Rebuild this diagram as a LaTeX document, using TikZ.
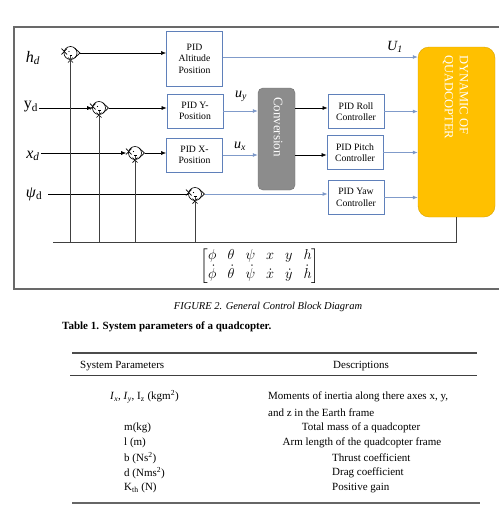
\documentclass[tikz,border=0pt]{standalone}
\usepackage{amsmath}
\usepackage{fontspec}
\setmainfont{Liberation Serif}
\usetikzlibrary{arrows.meta,positioning}
\definecolor{boxBlue}{RGB}{95,128,186}
\definecolor{lineBlue}{RGB}{128,155,202}
\definecolor{convGray}{RGB}{140,140,140}
\definecolor{quadYellow}{RGB}{255,192,0}
\definecolor{frameGray}{RGB}{105,105,105}

\begin{document}
\begin{tikzpicture}
[x=1pt,y=-1pt,
pidBox/.style={draw=boxBlue,line width=0.8pt,fill=white,align=center,inner sep=0pt,
  minimum width=56pt,minimum height=34pt,font=\fontsize{9.7}{11.5}\selectfont},
convBox/.style={draw=convGray!80!black,fill=convGray,rounded corners=5pt,minimum width=37pt,minimum height=102pt},
quadBox/.style={draw=quadYellow!85!black,fill=quadYellow,rounded corners=11pt,minimum width=77pt,minimum height=170pt},
sumNode/.style={circle,draw,line width=0.6pt,minimum size=13pt,inner sep=0pt},
sumMark/.style={line width=0.7pt},
sigEdge/.style={line width=0.6pt,-{Latex[length=5pt,width=4pt]}},
blueEdge/.style={lineBlue,line width=0.8pt,-{Latex[length=5pt,width=4pt,fill=boxBlue]}},
plainEdge/.style={line width=0.6pt},
fbEdge/.style={black!75,line width=0.8pt},
inLabel/.style={font=\fontsize{16}{16}\selectfont,inner sep=1pt},
uLabel/.style={font=\itshape\fontsize{14}{14}\selectfont,inner sep=1pt},
tabText/.style={font=\fontsize{11}{13}\selectfont,inner sep=0pt},
]
\useasboundingbox (0,0) rectangle (499,512);
\draw[frameGray,line width=1.3pt] (499,27) -- (14,27) -- (14,289) -- (499,289);
\node[inLabel] (hd) at (33,58) {\textit{h}\textsubscript{\textit{d}}};
\node[inLabel] (yd) at (31,107) {y\textsubscript{d}};
\node[inLabel] (xd) at (33,156) {\textit{x}\textsubscript{\textit{d}}};
\node[inLabel] (psid) at (34,194) {\textit{ψ}\textsubscript{d}};
\node[sumNode] (s1) at (70.5 , 53) {};
\node[sumNode] (s2) at (99 , 108) {};
\node[sumNode] (s3) at (135 , 153) {};
\node[sumNode] (s4) at (195 , 194) {};
\foreach \s in {s1,s2,s3,s4}{
  \draw[sumMark] ([shift={(4,-5)}]\s.center) -- ([shift={(9.5,0)}]\s.center) -- ([shift={(4,5)}]\s.center);
  \draw[sumMark] ([shift={(-9,-4.5)}]\s.center) -- ([shift={(-3.5,1.5)}]\s.center);
  \draw[sumMark] ([shift={(-9,1.5)}]\s.center) -- ([shift={(-3.5,-4.5)}]\s.center);
  \draw[sumMark] ([shift={(-2.5,4.5)}]\s.center) -- ([shift={(2.5,9.5)}]\s.center);
  \draw[sumMark] ([shift={(-2.5,9.5)}]\s.center) -- ([shift={(2.5,4.5)}]\s.center);
  \fill ([shift={(-1.5,-1.5)}]\s.center) circle (0.6pt);
  \draw[line width=0.5pt] ([shift={(-1,2.5)}]\s.center) -- ([shift={(1.8,2.5)}]\s.center);
}
\node[pidBox,minimum height=55pt] (alt) at (194.5 , 58.5) {PID\\Altitude\\Position};
\node[pidBox] (ypos) at (195 , 111) {PID Y-\\Position};
\node[pidBox] (xpos) at (194.5 , 155) {PID X-\\Position};
\node[convBox] (conv) at (276.5 , 139) {};
\node[rotate=-90,white,font=\fontsize{13}{13}\selectfont,inner sep=0pt] (convtext) at (278 , 127) {Conversion};
\node[pidBox] (roll) at (356 , 111.5) {PID Roll\\Controller};
\node[pidBox] (pitch) at (355 , 152.5) {PID Pitch\\Controller};
\node[pidBox] (yaw) at (356 , 197.5) {PID Yaw\\Controller};
\node[quadBox] (quad) at (456.5 , 132) {};
\node[rotate=-90,anchor=west,align=left,white,font=\fontsize{12.5}{15}\selectfont,inner sep=0pt] (quadtext) at (455.5 , 55) {DYNAMIC OF\\QUADCOPTER};
\node[uLabel] (U1) at (395 , 47) {U\textsubscript{1}};
\node[uLabel] (uy) at (241 , 96) {u\textsubscript{y}};
\node[uLabel] (ux) at (240 , 146) {u\textsubscript{x}};
\coordinate (fbL) at (53 , 242);
\draw[sigEdge] (yd.east |- s2) -- (s2.west);
\draw[sigEdge] (xd.east |- s3) -- ([xshift=-2pt]s3.west);
\draw[plainEdge] ([xshift=14pt]psid.center |- s4) -- (s4.west);
\draw[sigEdge] ([xshift=3pt]s1.east) -- (s1.east -| alt.west);
\draw[sigEdge] ([xshift=3pt]s2.east) -- (s2.east -| ypos.west);
\draw[sigEdge] ([xshift=3pt]s3.east) -- (s3.east -| xpos.west);
\draw[blueEdge] ([xshift=3pt]s4.east) -- (s4.east -| yaw.west);
\draw[blueEdge] (alt.east |- 0,57) -- (quad.west |- 0,57);
\draw[blueEdge] (ypos.east) -- (ypos.east -| conv.west);
\draw[blueEdge] (xpos.east) -- (xpos.east -| conv.west);
\draw[sigEdge] (conv.east |- 0,108) -- (roll.west |- 0,108);
\draw[sigEdge] (conv.east |- 0,155) -- (pitch.west |- 0,155);
\draw[blueEdge] (roll.east) -- (roll.east -| quad.west);
\draw[blueEdge] (pitch.east) -- (pitch.east -| quad.west);
\draw[blueEdge] (yaw.east) -- (yaw.east -| quad.west);
\draw[fbEdge] (quad.south) |- (fbL);
\foreach \s in {s1,s2,s3,s4}
  \draw[fbEdge] ([yshift=4pt]\s.south) -- (\s |- fbL);
\node[font=\fontsize{14.4}{15}\selectfont,inner sep=0pt] (state) at (260 , 266)
  {$\arraycolsep=5.5pt\begin{bmatrix}\phi & \theta & \psi & x & y & h\\[1pt] \dot\phi & \dot\theta & \dot\psi & \dot x & \dot y & \dot h\end{bmatrix}$};
\node[font=\itshape\fontsize{10.5}{12}\selectfont,inner sep=0pt] (cap) at (268 , 307) {FIGURE 2. General Control Block Diagram};
\node[anchor=west,font=\bfseries\fontsize{11}{13}\selectfont,inner sep=0pt] (tabtitle) at (62 , 327) {Table 1. System parameters of a quadcopter.};
\draw[black!70,line width=1.2pt] (72,353) -- (477,353);
\draw[black!75,line width=0.8pt] (70,375) -- (477,375);
\draw[black!60,line width=1.8pt] (72,503) -- (480,503);
\node[tabText,anchor=west] (hdrpar) at (80 , 366) {System Parameters};
\node[tabText] (hdrdesc) at (361 , 366) {Descriptions};
\node[tabText,anchor=west] (par1) at (110 , 397) {\textit{I}\textsubscript{\textit{x}}, \textit{I}\textsubscript{\textit{y}}, I\textsubscript{z} (kgm\textsuperscript{2})};
\node[tabText,anchor=west] (par2) at (124 , 428) {m(kg)};
\node[tabText,anchor=west] (par3) at (124 , 443) {l (m)};
\node[tabText,anchor=west] (par4) at (124 , 458) {b (Ns\textsuperscript{2})};
\node[tabText,anchor=west] (par5) at (124 , 473) {d (Nms\textsuperscript{2})};
\node[tabText,anchor=west] (par6) at (124 , 488) {K\textsubscript{th} (N)};
\node[tabText,anchor=west] (desc1a) at (268 , 397) {Moments of inertia along there axes x, y,};
\node[tabText,anchor=west] (desc1b) at (268 , 413) {and z in the Earth frame};
\node[tabText] (desc2) at (361 , 428) {Total mass of a quadcopter};
\node[tabText] (desc3) at (362 , 443) {Arm length of the quadcopter frame};
\node[tabText,anchor=west] (desc4) at (332 , 458) {Thrust coefficient};
\node[tabText,anchor=west] (desc5) at (332 , 473) {Drag coefficient};
\node[tabText,anchor=west] (desc6) at (332 , 488) {Positive gain};
\end{tikzpicture}
\end{document}
